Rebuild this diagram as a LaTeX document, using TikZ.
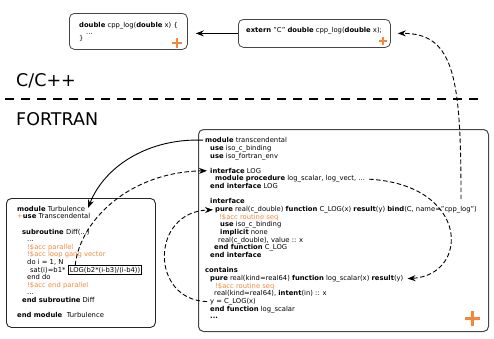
\documentclass[tikz,border=0pt]{standalone}
\usepackage{fontspec}
\setmainfont{DejaVu Sans}
\usetikzlibrary{arrows.meta,calc}
\definecolor{accorange}{RGB}{245,135,60}
\definecolor{boxgray}{RGB}{70,70,70}
\begin{document}
\begin{tikzpicture}[x=1pt,y=-1pt,
  code/.style={font=\fontsize{6.8}{7.7}\selectfont, inner sep=0pt, anchor=base west},
  acc/.style={code, text=accorange},
  cbox/.style={draw=boxgray, line width=0.8pt, rounded corners=5pt, anchor=north west, inner sep=0pt},
  conn/.style={line width=0.9pt, -{Stealth[length=8pt,width=6pt]}},
  dconn/.style={conn, dash pattern=on 4.5pt off 2.5pt},
  plus/.style={accorange, line width=2pt},
  big/.style={font=\fontsize{17.5}{20}\selectfont, inner sep=0pt, anchor=base west}
]
\useasboundingbox (0,0) rectangle (494,338);

% boxes
\node[cbox, minimum width=118pt, minimum height=36pt] (cpp) at (69,13) {};
\node[cbox, minimum width=152pt, minimum height=28pt] (ext) at (238,19) {};
\node[cbox, line width=1pt, minimum width=290pt, minimum height=202pt] (trans) at (198,129) {};
\node[cbox, draw=black!85, line width=0.9pt, minimum width=149pt, minimum height=129pt] (turb) at (6,198) {};

% plus marks
\draw[plus] (172,43) -- (182,43) (177,38) -- (177,48);
\draw[plus, line width=1.8pt] (379,41) -- (387,41) (383,37) -- (383,45);
\draw[plus, line width=2.5pt] (465,318.5) -- (480,318.5) (472.5,311) -- (472.5,326);

% C/C++ box texts
\node[code] (c1) at (79,27) {\textbf{double} cpp\_log(\textbf{double} x) \{};
\node[code] (c2) at (86,34) {...};
\node[code] (c3) at (79,40) {\}};
\node[code] (e1) at (246,32) {\textbf{extern} "C" \textbf{double} cpp\_log(\textbf{double} x);};

% separator and labels
\draw[line width=1.6pt, dash pattern=on 9pt off 7pt] (5,99) -- (483,99);
\node[big] (clab) at (16,86) {C/C++};
\node[big] (flab) at (16,125) {FORTRAN};

% transcendental module
\node[code] (t0) at (205,142.7) {\textbf{module} transcendental};
\node[code] (t1) at (210,150.35) {\textbf{use} iso\_c\_binding};
\node[code] (t2) at (210,158.0) {\textbf{use} iso\_fortran\_env};
\node[code] (t4) at (210,173.3) {\textbf{interface} LOG};
\node[code] (t5) at (215,180.95) {\textbf{module procedure} log\_scalar, log\_vect, ...};
\node[code] (t6) at (210,188.6) {\textbf{end interface} LOG};
\node[code] (t8) at (210,203.9) {\textbf{interface}};
\node[code] (t9) at (215,211.55) {\textbf{pure} real(c\_double) \textbf{function} C\_LOG(x) \textbf{result}(y) \textbf{bind}(C, name="cpp\_log")};
\node[acc] (t10) at (219,219.2) {!\$acc routine seq};
\node[code] (t11) at (220,226.85) {\textbf{use} iso\_c\_binding};
\node[code] (t12) at (220,234.5) {\textbf{implicit} none};
\node[code] (t13) at (218,242.15) {real(c\_double), value :: x};
\node[code] (t14) at (214,249.8) {\textbf{end function} C\_LOG};
\node[code] (t15) at (210,257.45) {\textbf{end interface}};
\node[code] (t17) at (205,272.75) {\textbf{contains}};
\node[code] (t18) at (210,280.4) {\textbf{pure} real(kind=real64) \textbf{function} log\_scalar(x) \textbf{result}(y)};
\node[acc] (t19) at (215,288.05) {!\$acc routine seq};
\node[code] (t20) at (214,295.7) {real(kind=real64), \textbf{intent}(in) :: x};
\node[code] (t21) at (210,303.35) {y = C\_LOG(x)};
\node[code] (t22) at (210,311.0) {\textbf{end function} log\_scalar};
\node[code] (t23) at (210,318.65) {\textbf{...}};

% Turbulence module
\node[code] (u0) at (17,211.2) {\textbf{module} Turbulence};
\node[code] (u1) at (17,218.8) {\textcolor{accorange}{+}\textbf{use} Transcendental};
\node[code] (u3) at (22,234.0) {\textbf{subroutine} Diff(...)};
\node[code] (u4) at (27,241.6) {...};
\node[acc] (u5) at (27,249.2) {!\$acc parallel};
\node[acc] (u6) at (27,256.8) {!\$acc loop gang vector};
\node[code] (u7) at (27,264.4) {do i = 1, N};
\node[code] (u8) at (30,272.0) {sat(i)=b1*};
\node[code, draw=black, line width=0.8pt, inner sep=1.2pt, anchor=base west] (logc) at ([xshift=2.5pt]u8.base east) {LOG(b2*(i-b3)/(i-b4))};
\node[code] (u9) at (27,279.6) {end do};
\node[acc] (u10) at (27,287.2) {!\$acc end parallel};
\node[code] (u11) at (27,294.8) {...};
\node[code] (u12) at (22,302.4) {\textbf{end subroutine} Diff};
\node[code] (u14) at (17,317.6) {\textbf{end module}\hspace{4.5pt}Turbulence};

% connectors
\coordinate (cppsrc) at (461,199);
\draw[conn] (ext.west) -- ([xshift=8pt]cpp.east |- ext.west);
\draw[dconn] (cppsrc) .. controls (461,80) and (455,33) .. ([xshift=7pt]ext.east);
\draw[conn] ([xshift=-2pt]t0.west) .. controls (150,138) and (105,165) .. ([shift={(3,2)}]u0.north east);
\draw[dconn] ([xshift=7pt]logc.north west) .. controls (80,220) and (130,172) .. ([xshift=-3pt]t4.west);
\draw[dconn] ([xshift=4pt]t5.east) .. controls (470,185) and (470,275) .. ([xshift=4pt]t18.east);
\draw[dconn] ([xshift=-3pt]t21.west) .. controls (150,300) and (150,212) .. ([xshift=-2pt]t9.west);
\end{tikzpicture}
\end{document}
